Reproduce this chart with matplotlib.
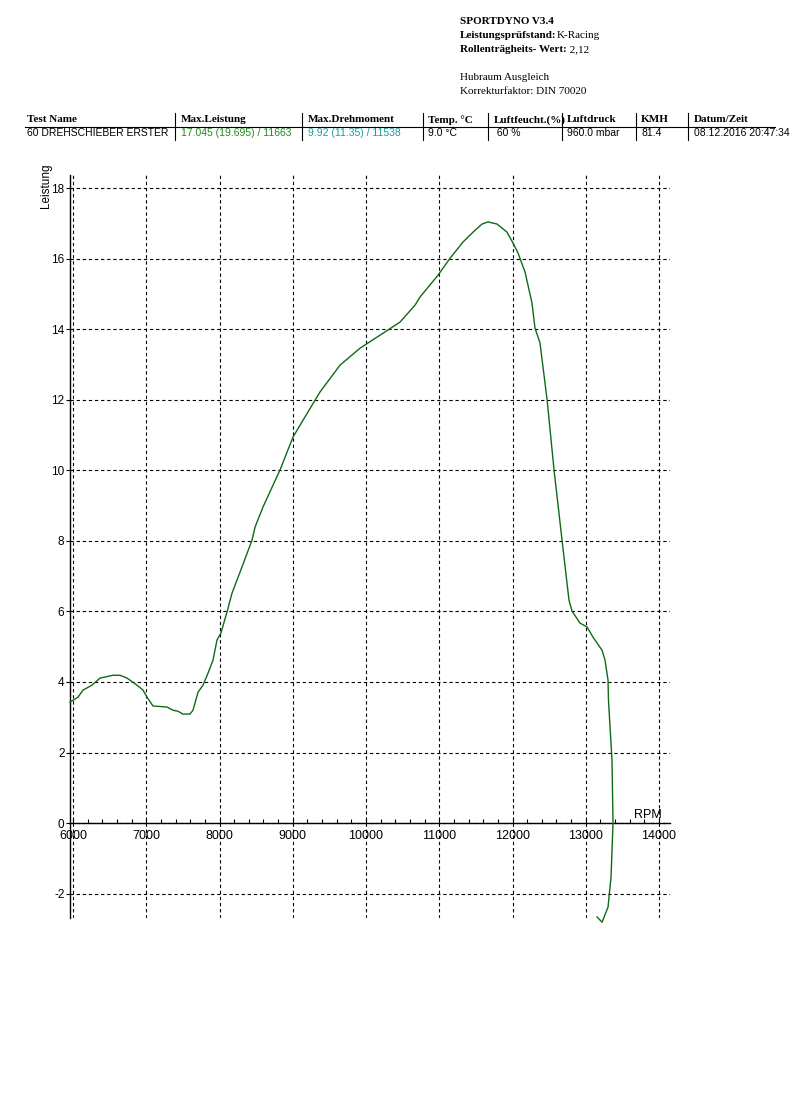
import numpy as np
import matplotlib.pyplot as plt
from matplotlib.ticker import MultipleLocator

# power curve read from the dyno sheet
rpm = [5959, 6068, 6137, 6259, 6369, 6546, 6642, 6737, 6874, 6956, 7010, 7092,
       7283, 7365, 7433, 7502, 7597, 7638, 7707, 7775, 7843, 7911, 7966, 8020,
       8102, 8171, 8307, 8444, 8485, 8594, 8826, 9003, 9140, 9372, 9645, 9918,
       10191, 10464, 10669, 10737, 10983, 11147, 11324, 11461, 11584, 11666,
       11788, 11925, 12007, 12075, 12171, 12266, 12307, 12375, 12471, 12567,
       12676, 12771, 12812, 12921, 13017, 13099, 13222, 13263, 13304, 13310,
       13358, 13372, 13345, 13304, 13222, 13154]
leistung = [3.43, 3.57, 3.77, 3.91, 4.11, 4.19, 4.19, 4.11, 3.91, 3.77, 3.57, 3.32,
            3.29, 3.20, 3.17, 3.09, 3.09, 3.20, 3.71, 3.91, 4.25, 4.62, 5.19, 5.39,
            5.98, 6.52, 7.26, 8.02, 8.39, 8.96, 10.01, 10.94, 11.42, 12.22, 12.98, 13.46,
            13.83, 14.20, 14.68, 14.91, 15.53, 16.01, 16.47, 16.75, 16.98, 17.04,
            16.98, 16.75, 16.44, 16.16, 15.62, 14.74, 14.03, 13.61, 12.02, 10.01,
            8.02, 6.32, 6.01, 5.67, 5.56, 5.27, 4.90, 4.62, 4.05, 3.49,
            1.79, 0.0, -1.53, -2.38, -2.81, -2.66]

xticks = [6000, 7000, 8000, 9000, 10000, 11000, 12000, 13000, 14000]
yticks = [-2, 0, 2, 4, 6, 8, 10, 12, 14, 16, 18]

cols_x = [27, 181, 308, 428, 494, 567, 641, 694]
sep_x = [175, 302, 423, 488, 562, 636, 688]
headers = ["Test Name", "Max.Leistung", "Max.Drehmoment", "Temp. °C",
           "Luftfeucht.(%)", "Luftdruck", "KMH", "Datum/Zeit"]
values = ["60 DREHSCHIEBER ERSTER", "17.045 (19.695) / 11663", "9.92 (11.35) / 11538",
          "9.0 °C", " 60 %", "960.0 mbar", "81.4", "08.12.2016 20:47:34"]
val_colors = ["black", "#1f8a1f", "#1a9aa0", "black", "black", "black", "black", "black"]

W, H = 790, 1119
fig = plt.figure(figsize=(W / 100, H / 100), dpi=100)

def px(x, y):
    return x / W, 1 - y / H

serif = "Liberation Serif"
sans = "Liberation Sans"
renderer = fig.canvas.get_renderer()

def bold_then_normal(y, bold, normal):
    t = fig.text(*px(460, y), bold, family=serif, weight="bold", size=8, va="center")
    x1 = t.get_window_extent(renderer).x1
    fig.text(x1 / W, 1 - y / H, normal, family=serif, size=8, va="center")

# header block
fig.text(*px(460, 22), "SPORTDYNO V3.4", family=serif, weight="bold", size=8, va="center")
bold_then_normal(36, "Leistungsprüfstand:", "K-Racing")
bold_then_normal(50, "Rollenträgheits- Wert:", " 2,12")
fig.text(*px(460, 78), "Hubraum Ausgleich", family=serif, size=8, va="center")
fig.text(*px(460, 92), "Korrekturfaktor: DIN 70020", family=serif, size=8, va="center")

# table
for x, h in zip(cols_x, headers):
    fig.text(*px(x, 120), h, family=serif, weight="bold", size=8, va="center")
for x, v, c in zip(cols_x, values, val_colors):
    fig.text(*px(x, 133), v, family=sans, size=7.5, va="center", color=c)
fig.add_artist(plt.Line2D([25 / W, 775 / W], [1 - 126.5 / H] * 2, color="black", lw=0.8))
for x in sep_x:
    fig.add_artist(plt.Line2D([x / W] * 2, [1 - 113 / H, 1 - 140 / H], color="black", lw=0.8))

# chart
ax = fig.add_axes([70 / W, 1 - 918 / H, 600 / W, 743 / H])
ax.plot(rpm, leistung, color="#0f6a14", lw=1, clip_on=False, zorder=3)
ax.set_xlim(5959, 14150)
ax.set_ylim(-2.69, 18.37)

ax.set_xticks(xticks)
ax.set_xticklabels([str(v) for v in xticks])
ax.xaxis.set_minor_locator(MultipleLocator(200))
ax.set_yticks(yticks)
ax.set_yticklabels([str(v) for v in yticks])

ax.grid(True, which="major", color="black", lw=0.8, ls=(0, (3, 2.5)))
for s in ["top", "right"]:
    ax.spines[s].set_visible(False)
ax.spines["bottom"].set_position(("data", 0))
ax.spines["bottom"].set_linewidth(1)
ax.spines["left"].set_linewidth(1)

ax.tick_params(axis="x", which="both", direction="in", length=3, width=0.8,
               labelsize=9, pad=5)
ax.tick_params(axis="y", direction="out", length=3, width=0.8, labelsize=8.5, pad=1)
for lab in ax.get_xticklabels() + ax.get_yticklabels():
    lab.set_family(sans)

ax.text(13850, 0.05, "RPM", family=sans, size=9, ha="center", va="bottom")
fig.text(*px(46, 186), "Leistung", family=sans, size=8.5, rotation=90, ha="center", va="center")

fig.savefig("out.png", dpi=100)
